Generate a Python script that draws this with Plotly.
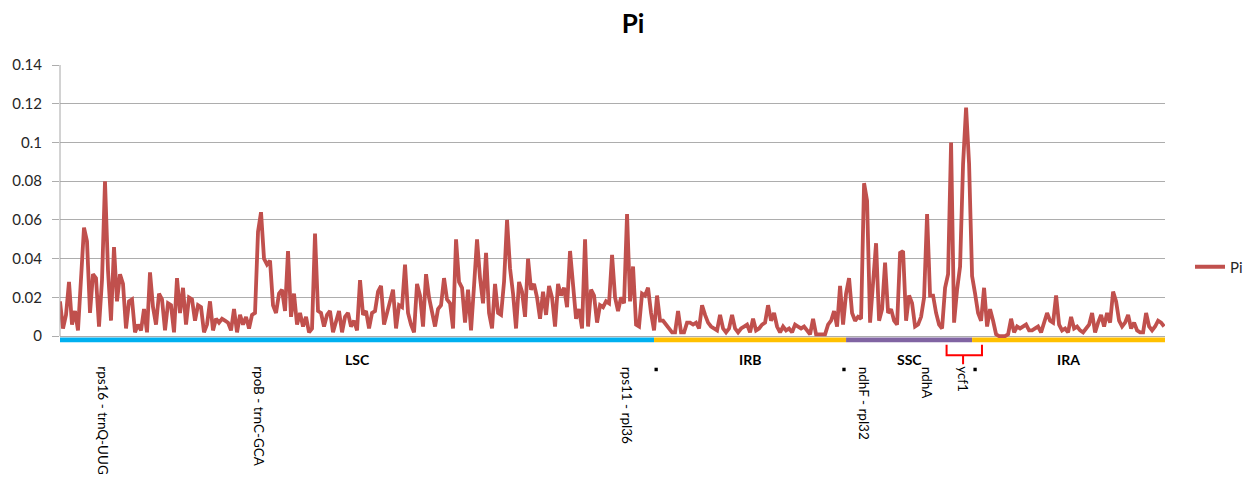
import plotly.graph_objects as go

# ---------------- data ----------------
pi_lsc = [
    0.018, 0.004, 0.011, 0.028, 0.006, 0.013, 0.003, 0.026, 0.056, 0.049,
    0.012, 0.032, 0.030, 0.005, 0.029, 0.080, 0.034, 0.008, 0.046, 0.018,
    0.032, 0.027, 0.004, 0.018, 0.019, 0.002, 0.006, 0.003, 0.014, 0.002,
    0.033, 0.015, 0.006, 0.022, 0.019, 0.003, 0.017, 0.016, 0.002, 0.030,
    0.012, 0.025, 0.006, 0.020, 0.019, 0.008, 0.016, 0.015, 0.002, 0.006,
    0.018, 0.003, 0.009, 0.007, 0.009, 0.008, 0.007, 0.003, 0.014, 0.002,
    0.011, 0.006, 0.010, 0.004, 0.011, 0.012, 0.054, 0.064, 0.040, 0.037,
    0.039, 0.016, 0.012, 0.022, 0.024, 0.013, 0.044, 0.010, 0.022, 0.006,
    0.012, 0.005, 0.010, 0.002, 0.004, 0.053, 0.013, 0.012, 0.005, 0.011,
    0.013, 0.002, 0.007, 0.013, 0.002, 0.010, 0.012, 0.005, 0.008, 0.003,
    0.029, 0.011, 0.013, 0.004, 0.012, 0.013, 0.023, 0.026, 0.006, 0.013,
    0.018, 0.024, 0.004, 0.016, 0.015, 0.037, 0.012, 0.006, 0.002, 0.027,
    0.021, 0.005, 0.032, 0.020, 0.012, 0.005, 0.014, 0.016, 0.030, 0.019,
    0.017, 0.004, 0.050, 0.028, 0.025, 0.007, 0.024, 0.003, 0.026, 0.050,
    0.030, 0.017, 0.043, 0.012, 0.004, 0.027, 0.012, 0.011, 0.028, 0.060,
    0.035, 0.022, 0.004, 0.028, 0.023, 0.010, 0.040, 0.024, 0.027, 0.020,
    0.009, 0.023, 0.011, 0.026, 0.020, 0.005, 0.027, 0.021, 0.025, 0.015,
    0.044, 0.025, 0.009, 0.014, 0.004, 0.050, 0.005, 0.024, 0.021, 0.007,
    0.016, 0.015, 0.018, 0.017, 0.042, 0.020, 0.013, 0.020, 0.017, 0.063,
    0.018, 0.036, 0.006, 0.005, 0.022, 0.021, 0.025, 0.012,
]
pi_irb = [
    0.003, 0.021, 0.008, 0.008, 0.006, 0.004, 0.002, 0.002, 0.013, 0.002,
    0.002, 0.007, 0.007, 0.006, 0.007, 0.004, 0.016, 0.011, 0.007, 0.005,
    0.004, 0.003, 0.011, 0.004, 0.002, 0.004, 0.011, 0.004, 0.002, 0.004,
    0.005, 0.006, 0.002, 0.009, 0.003, 0.004, 0.006, 0.007, 0.016, 0.008,
    0.012, 0.005, 0.002, 0.005, 0.003, 0.004, 0.002, 0.006, 0.005, 0.004,
    0.005, 0.003, 0.001, 0.009, 0.001, 0.001, 0.001, 0.001, 0.006, 0.008,
    0.013, 0.005, 0.026, 0.006,
]
pi_ssc = [
    0.022, 0.030, 0.012, 0.008, 0.010, 0.009, 0.079, 0.070, 0.007, 0.030,
    0.048, 0.008, 0.014, 0.038, 0.012, 0.014, 0.008, 0.006, 0.043, 0.044,
    0.008, 0.021, 0.017, 0.005, 0.006, 0.010, 0.020, 0.063, 0.021, 0.021,
    0.012, 0.006, 0.004, 0.025, 0.032, 0.100, 0.007, 0.024, 0.036, 0.089,
    0.118, 0.089,
]
pi_ira = [
    0.031, 0.022, 0.012, 0.008, 0.025, 0.005, 0.014, 0.008, 0.001, 0.000,
    0.000, 0.000, 0.001, 0.009, 0.002, 0.005, 0.004, 0.005, 0.006, 0.003,
    0.003, 0.004, 0.005, 0.002, 0.007, 0.012, 0.008, 0.007, 0.021, 0.006,
    0.003, 0.004, 0.002, 0.010, 0.004, 0.005, 0.003, 0.002, 0.004, 0.006,
    0.012, 0.002, 0.007, 0.011, 0.005, 0.012, 0.007, 0.023, 0.018, 0.008,
    0.005, 0.007, 0.011, 0.004, 0.007, 0.003, 0.002, 0.002, 0.012, 0.005,
    0.003, 0.005, 0.008, 0.007, 0.005,
]

region_names = ["LSC", "IRB", "SSC", "IRA"]
region_series = [pi_lsc, pi_irb, pi_ssc, pi_ira]
region_colors = ["#00B0F0", "#FFC000", "#8064A2", "#FFC000"]

gene_labels = ["rps16 - trnQ-UUG", "rpoB - trnC-GCA", "rps11 - rpl36",
               "ndhF - rpl32", "ndhA", "ycf1"]
gene_window = [14.5, 66.5, 189, 268, 289, 301]
ycf1_span = [295.5, 307.3]
boundary_dots = [198.7, 261.3, 305]

y_ticks = [0, 0.02, 0.04, 0.06, 0.08, 0.1, 0.12, 0.14]

# ---------------- figure ----------------
pi_values = pi_lsc + pi_irb + pi_ssc + pi_ira
window = list(range(len(pi_values)))

# the page body has an 8px margin; size the figure so it fits the window
OFF = 8
VW, VH = 1254, 489
W, H = VW - 2 * OFF, VH - 2 * OFF
PLOT_L, PLOT_R, PLOT_T, PLOT_B = 60, 1165, 65, 342.8   # in window pixels
ML = PLOT_L - OFF
MR = W - (PLOT_R - OFF)
MT = PLOT_T - OFF
MB = H - (PLOT_B - OFF)
X_MAX = 368.3
Y_MIN, Y_MAX = -0.0035, 0.14
FONT = "Lato, 'Open Sans', sans-serif"
RED = "#C0504D"


def py(p):
    """window pixel row -> paper y"""
    return (PLOT_B - p) / (PLOT_B - PLOT_T)


fig = go.Figure()
fig.add_trace(go.Scatter(
    x=window, y=pi_values, mode="lines", name="Pi",
    line=dict(color=RED, width=3.8), hoverinfo="x+y",
))

shapes = []
annotations = []

# region bars and labels (bounds derived from series lengths)
start = 0
for name, series, col in zip(region_names, region_series, region_colors):
    end = min(start + len(series), X_MAX)
    shapes.append(dict(type="rect", xref="x", yref="y", x0=start, x1=end,
                       y0=-0.0031, y1=-0.0006, fillcolor=col,
                       line=dict(width=0), layer="below"))
    annotations.append(dict(x=(start + end) / 2, xref="x", y=py(359), yref="paper",
                            text="<b>%s</b>" % name, showarrow=False,
                            font=dict(size=14, color="#000"),
                            xanchor="center", yanchor="middle"))
    start = start + len(series)

# y axis line
shapes.append(dict(type="line", xref="paper", yref="y", x0=0, x1=0, y0=0, y1=Y_MAX,
                   line=dict(color="#A6A6A6", width=1)))

# small boundary dots
for b in boundary_dots:
    shapes.append(dict(type="rect", xref="x", yref="paper", x0=b - 0.55, x1=b + 0.55,
                       y0=py(371), y1=py(367.5), fillcolor="#000",
                       line=dict(width=0)))

# ycf1 bracket
xl, xr = ycf1_span
xc = gene_window[-1]
yt, yh, ys = py(344.5), py(355), py(364)
shapes.append(dict(type="path", xref="x", yref="paper",
                   path="M%f,%f L%f,%f L%f,%f L%f,%f M%f,%f L%f,%f" % (
                       xl, yt, xl, yh, xr, yh, xr, yt, xc, yh, xc, ys),
                   line=dict(color="#FF0000", width=2)))

# gene labels (rotated)
for lab, g in zip(gene_labels, gene_window):
    annotations.append(dict(x=g, xref="x", y=py(364), yref="paper", text=lab,
                            textangle=90, showarrow=False,
                            font=dict(size=13.5, color="#000"),
                            xanchor="center", yanchor="top"))

fig.update_layout(
    width=W, height=H,
    margin=dict(l=ML, r=MR, t=MT, b=MB, autoexpand=False),
    paper_bgcolor="white", plot_bgcolor="white",
    font=dict(family=FONT, size=15, color="#000"),
    title=dict(text="<b>Pi</b>", x=(633 - OFF) / W, xref="container", xanchor="center",
               y=1 - (24 - OFF) / H, yref="container", yanchor="middle",
               font=dict(size=26, color="#000", family=FONT)),
    xaxis=dict(range=[0, X_MAX], showgrid=False, zeroline=False, automargin=False,
               showticklabels=False, ticks="", showline=False, fixedrange=True),
    yaxis=dict(range=[Y_MIN, Y_MAX], tickvals=y_ticks, automargin=False,
               ticktext=["%g" % v for v in y_ticks],
               showgrid=True, gridcolor="#ADADAD", gridwidth=1,
               zeroline=True, zerolinecolor="#ADADAD", zerolinewidth=1,
               ticks="outside", ticklen=7, tickcolor="#ADADAD",
               ticklabelstandoff=7,
               tickfont=dict(size=15, color="#262626"), showline=False),
    showlegend=True,
    legend=dict(x=(1190 - OFF) / W, y=1 - (267 - OFF) / H,
                xref="container", yref="container",
                xanchor="left", yanchor="middle",
                font=dict(size=15, color="#262626"), bgcolor="rgba(0,0,0,0)"),
    shapes=shapes,
    annotations=annotations,
)

fig.write_html("out.html")
